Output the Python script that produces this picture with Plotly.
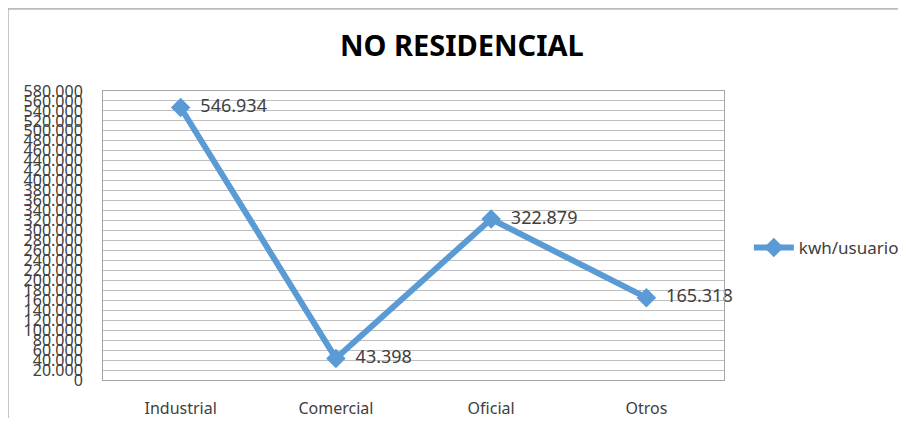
import plotly.graph_objects as go

categorias = ["Industrial", "Comercial", "Oficial", "Otros"]
kwh_usuario = [546934, 43398, 322879, 165318]
serie = "kwh/usuario"

fig = go.Figure()
fig.add_trace(go.Scatter(
    x=categorias, y=kwh_usuario, name=serie,
    mode="lines+markers+text",
    line=dict(color="#5B9BD5", width=6),
    marker=dict(symbol="diamond", size=15, color="#5B9BD5"),
    texttemplate="  %{y:,d}", textposition="middle right",
    textfont=dict(size=18, color="#404040", family="Noto Sans"),
    cliponaxis=False,
))

# marco exterior del gráfico: solo borde izquierdo y superior quedan visibles
marco = dict(color="#8c8c8c", width=1)

# la página tiene 8px de margen en el body: figura más pequeña para no desbordar
fig.update_layout(
    width=890, height=410, autosize=False,
    separators=",.",
    paper_bgcolor="white", plot_bgcolor="white",
    margin=dict(l=95, r=174, t=83, b=38, autoexpand=False),
    font=dict(family="Noto Sans", color="#404040"),
    title=dict(text="<b>NO RESIDENCIAL</b>", x=0.51, xanchor="center",
               y=0.907, yanchor="middle",
               font=dict(size=29, color="black", family="Noto Sans")),
    showlegend=True,
    legend=dict(x=1.04, xanchor="left", y=0.457, yanchor="middle",
                font=dict(size=17, color="#404040"), itemwidth=40),
    shapes=[
        dict(type="line", xref="paper", yref="paper",
             x0=-0.153, x1=-0.153, y0=-0.3, y1=1.284, line=marco, layer="below"),
        dict(type="line", xref="paper", yref="paper",
             x0=-0.153, x1=1.4, y0=1.284, y1=1.284, line=marco, layer="below"),
    ],
)
fig.update_xaxes(showgrid=False, showline=True, linecolor="#a6a6a6", mirror=True,
                 ticks="", ticklabelstandoff=14, tickfont=dict(size=16),
                 range=[-0.5, 3.5])
fig.update_yaxes(range=[0, 580000], dtick=20000, tickformat=",d",
                 showgrid=True, gridcolor="#bfbfbf", gridwidth=1,
                 showline=True, linecolor="#a6a6a6", mirror=True,
                 zeroline=False, ticks="", ticklabelstandoff=16,
                 tickfont=dict(size=16))

fig.write_html("out.html")
